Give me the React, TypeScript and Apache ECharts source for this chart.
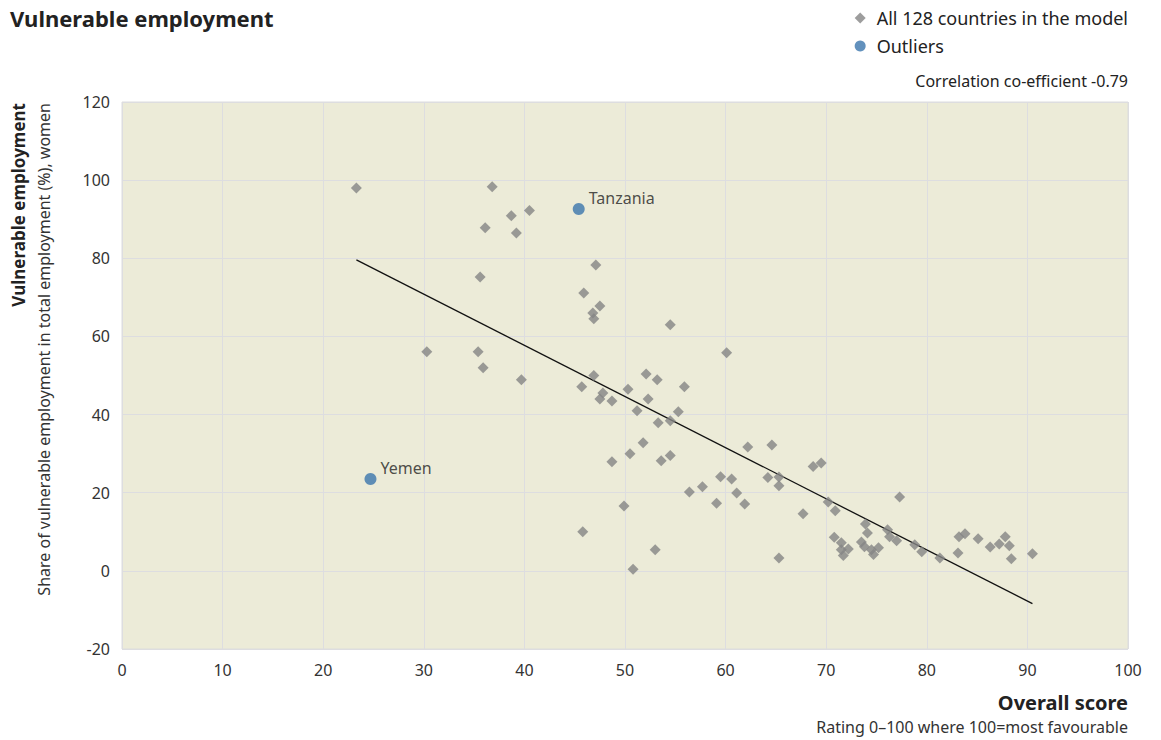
import React, { useEffect, useRef } from "react";
import * as echarts from "echarts";

// Overall score (x) and share of vulnerable employment among women (y)
const countryScores = [
  23.3, 36.8, 38.7, 40.5, 36.1, 39.2, 47.1, 35.6, 45.9, 47.5, 46.8, 46.9, 30.3, 35.4, 35.9,
  39.7, 46.9, 45.7, 50.3, 47.8, 47.5, 48.7, 51.2, 52.1, 52.3, 54.5, 60.1, 53.2, 55.9, 55.3,
  53.3, 54.5, 51.8, 50.5, 48.7, 53.6, 54.5, 62.2, 64.6, 49.9, 45.8, 53.0, 50.8, 56.4, 57.7,
  59.5, 60.6, 61.1, 59.1, 61.9, 64.2, 65.3, 65.3, 65.3, 68.7, 69.5, 67.7, 70.2, 70.9, 73.9,
  74.1, 70.8, 71.5, 71.5, 72.2, 71.7, 73.5, 73.8, 74.5, 75.2, 74.7, 76.1, 76.3, 77.0, 77.3,
  78.8, 79.5, 81.3, 83.1, 83.2, 83.8, 85.1, 86.3, 87.2, 87.8, 88.2, 88.4, 90.5,
];
const countryShares = [
  98.0, 98.3, 90.9, 92.2, 87.8, 86.5, 78.3, 75.2, 71.1, 67.8, 66.0, 64.5, 56.1, 56.1, 52.0,
  48.9, 50.0, 47.1, 46.5, 45.5, 44.0, 43.5, 41.0, 50.4, 44.0, 63.0, 55.8, 48.9, 47.1, 40.7,
  37.9, 38.4, 32.8, 30.0, 27.9, 28.2, 29.5, 31.7, 32.2, 16.6, 10.0, 5.4, 0.4, 20.2, 21.5,
  24.1, 23.5, 19.9, 17.3, 17.1, 23.9, 24.0, 21.8, 3.3, 26.7, 27.6, 14.6, 17.6, 15.4, 12.0,
  9.7, 8.6, 7.2, 5.4, 5.6, 3.9, 7.4, 6.2, 5.4, 5.9, 4.2, 10.5, 8.7, 7.7, 18.9,
  6.7, 4.9, 3.3, 4.6, 8.7, 9.5, 8.2, 6.1, 6.9, 8.7, 6.4, 3.1, 4.4,
];

const outlierNames = ["Tanzania", "Yemen"];
const outlierScores = [45.4, 24.7];
const outlierShares = [92.6, 23.5];

const trendScores = [23.3, 90.5];
const trendShares = [79.6, -8.4];

const xTicks = [0, 10, 20, 30, 40, 50, 60, 70, 80, 90, 100];
const yTicks = [-20, 0, 20, 40, 60, 80, 100, 120];

const FONT = "'Noto Sans', sans-serif";

export default function App() {
  const ref = useRef<HTMLDivElement>(null);

  useEffect(() => {
    if (!ref.current) return;
    const chart = echarts.init(ref.current, undefined, { renderer: "svg" });

    const countries = countryScores.map((x, i) => [x, countryShares[i]]);
    const outliers = outlierScores.map((x, i) => ({
      name: outlierNames[i],
      value: [x, outlierShares[i]],
    }));
    const trend = trendScores.map((x, i) => [x, trendShares[i]]);

    chart.setOption({
      animation: false,
      backgroundColor: "#ffffff",
      textStyle: { fontFamily: FONT },
      grid: {
        left: 122,
        right: 33,
        top: 102,
        bottom: 91,
        containLabel: false,
        outerBoundsMode: "none",
        show: true,
        backgroundColor: "#ECEBD8",
        borderColor: "#dcdcdc",
        borderWidth: 1,
      },
      legend: {
        orient: "vertical",
        right: 28,
        top: 4,
        itemGap: 10,
        itemWidth: 11,
        itemHeight: 11,
        data: [
          { name: "All 128 countries in the model", icon: "diamond" },
          { name: "Outliers", icon: "circle" },
        ],
        textStyle: { fontSize: 18, color: "#222", fontFamily: FONT, padding: [0, 0, 0, 6] },
      },
      xAxis: {
        type: "value",
        min: xTicks[0],
        max: xTicks[xTicks.length - 1],
        interval: 10,
        axisLine: { show: false },
        axisTick: { show: false },
        axisLabel: { fontSize: 16, color: "#333", margin: 13, fontFamily: FONT },
        splitLine: { show: true, lineStyle: { color: "#dddde0", width: 1 } },
      },
      yAxis: {
        type: "value",
        min: yTicks[0],
        max: yTicks[yTicks.length - 1],
        interval: 20,
        axisLine: { show: false },
        axisTick: { show: false },
        axisLabel: { fontSize: 16, color: "#333", margin: 12, fontFamily: FONT },
        splitLine: { show: true, lineStyle: { color: "#dddde0", width: 1 } },
      },
      series: [
        {
          name: "Trend",
          type: "line",
          data: trend,
          symbol: "none",
          lineStyle: { color: "#111", width: 1.3 },
          silent: true,
          z: 3,
        },
        {
          name: "All 128 countries in the model",
          type: "scatter",
          symbol: "diamond",
          symbolSize: 11,
          itemStyle: { color: "#858585" },
          data: countries,
          z: 4,
        },
        {
          name: "Outliers",
          type: "scatter",
          symbol: "circle",
          symbolSize: 12,
          itemStyle: { color: "#3b76ad" },
          data: outliers,
          label: {
            show: true,
            position: "right",
            distance: 4,
            offset: [0, -11],
            formatter: "{b}",
            fontSize: 16,
            color: "#222",
            fontFamily: FONT,
          },
          z: 5,
        },
      ],
      graphic: [
        {
          type: "text",
          left: 10,
          top: 7,
          style: {
            text: "Vulnerable employment",
            font: `bold 22px ${FONT}`,
            fill: "#222",
          },
        },
        {
          type: "text",
          right: 33,
          top: 73,
          style: {
            text: "Correlation co-efficient -0.79",
            font: `16px ${FONT}`,
            fill: "#222",
          },
        },
        {
          type: "text",
          x: 18,
          y: 103,
          rotation: Math.PI / 2,
          style: {
            text: "Vulnerable employment",
            font: `bold 17px ${FONT}`,
            fill: "#222",
            textAlign: "right",
            textVerticalAlign: "middle",
          },
        },
        {
          type: "text",
          x: 44,
          y: 103,
          rotation: Math.PI / 2,
          style: {
            text: "Share of vulnerable employment in total employment (%), women",
            font: `16px ${FONT}`,
            fill: "#333",
            textAlign: "right",
            textVerticalAlign: "middle",
          },
        },
        {
          type: "text",
          right: 33,
          top: 692,
          style: {
            text: "Overall score",
            font: `bold 20px ${FONT}`,
            fill: "#222",
          },
        },
        {
          type: "text",
          right: 33,
          top: 719,
          style: {
            text: "Rating 0\u2013100 where 100=most favourable",
            font: `16px ${FONT}`,
            fill: "#333",
          },
        },
      ],
    });

    return () => chart.dispose();
  }, []);

  return (
    <div
      ref={ref}
      style={{ position: "fixed", left: 0, top: 0, width: 1161, height: 740 }}
    />
  );
}
